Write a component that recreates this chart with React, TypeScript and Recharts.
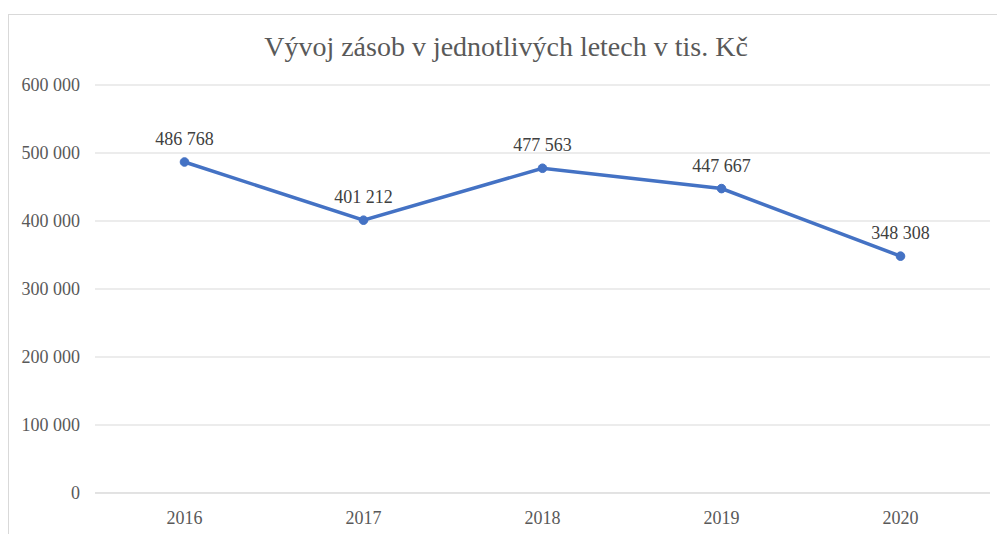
import { LineChart, Line, XAxis, YAxis, CartesianGrid, LabelList } from 'recharts';

// Year-end inventory values (thousand CZK)
const YEARS = ['2016', '2017', '2018', '2019', '2020'];
const ZASOBY = [486768, 401212, 477563, 447667, 348308];
const Y_TICKS = [0, 100000, 200000, 300000, 400000, 500000, 600000];

const TITLE = 'Vývoj zásob v jednotlivých letech v tis. Kč';
const FONT = '"Liberation Serif", "Times New Roman", serif';
const BLUE = '#4472C4';
const GRID = '#d9d9d9';

// Czech style grouping: 486768 -> "486 768"
const fmt = (v: number) => String(v).replace(/\B(?=(\d{3})+(?!\d))/g, ' ');

const data = YEARS.map((year, i) => ({ year, value: ZASOBY[i] }));

export default function App() {
  return (
    <div style={{ position: 'absolute', left: 0, top: 0, width: 997, height: 534, background: '#fff', fontFamily: FONT, overflow: 'hidden' }}>
      {/* svg text otherwise falls back to a sans face */}
      <style>{`.recharts-wrapper text, .recharts-wrapper tspan { font-family: ${FONT} !important; }`}</style>
      {/* chart frame, only its left and top edges fall inside the picture */}
      <div style={{ position: 'absolute', left: 8, top: 14, width: 1000, height: 540, border: `1px solid ${GRID}`, boxSizing: 'border-box' }} />
      <div style={{ position: 'absolute', left: 0, width: 1012, top: 29, textAlign: 'center', fontSize: 28, color: '#595959', lineHeight: '36px' }}>
        {TITLE}
      </div>
      <LineChart
        width={997}
        height={534}
        data={data}
        margin={{ top: 85, right: 7, left: 0, bottom: 11 }}
        style={{ position: 'absolute', left: 0, top: 0 }}
      >
        <CartesianGrid vertical={false} stroke={GRID} />
        <XAxis
          dataKey="year"
          scale="band"
          height={30}
          tickLine={false}
          axisLine={{ stroke: GRID }}
          tickMargin={12}
          tick={{ fontSize: 18, fill: '#595959', fontFamily: FONT }}
        />
        <YAxis
          width={95}
          domain={[0, 600000]}
          ticks={Y_TICKS}
          tickFormatter={fmt}
          tickLine={false}
          axisLine={false}
          tickMargin={9}
          tick={{ fontSize: 18, fill: '#595959', fontFamily: FONT }}
        />
        <Line
          type="linear"
          dataKey="value"
          stroke={BLUE}
          strokeWidth={3.5}
          dot={{ r: 4.3, fill: BLUE, stroke: BLUE, strokeWidth: 1 }}
          isAnimationActive={false}
        >
          <LabelList
            dataKey="value"
            position="top"
            offset={17}
            formatter={(v: any) => fmt(Number(v))}
            style={{ fontSize: 18, fill: '#404040', fontFamily: FONT }}
          />
        </Line>
      </LineChart>
    </div>
  );
}
